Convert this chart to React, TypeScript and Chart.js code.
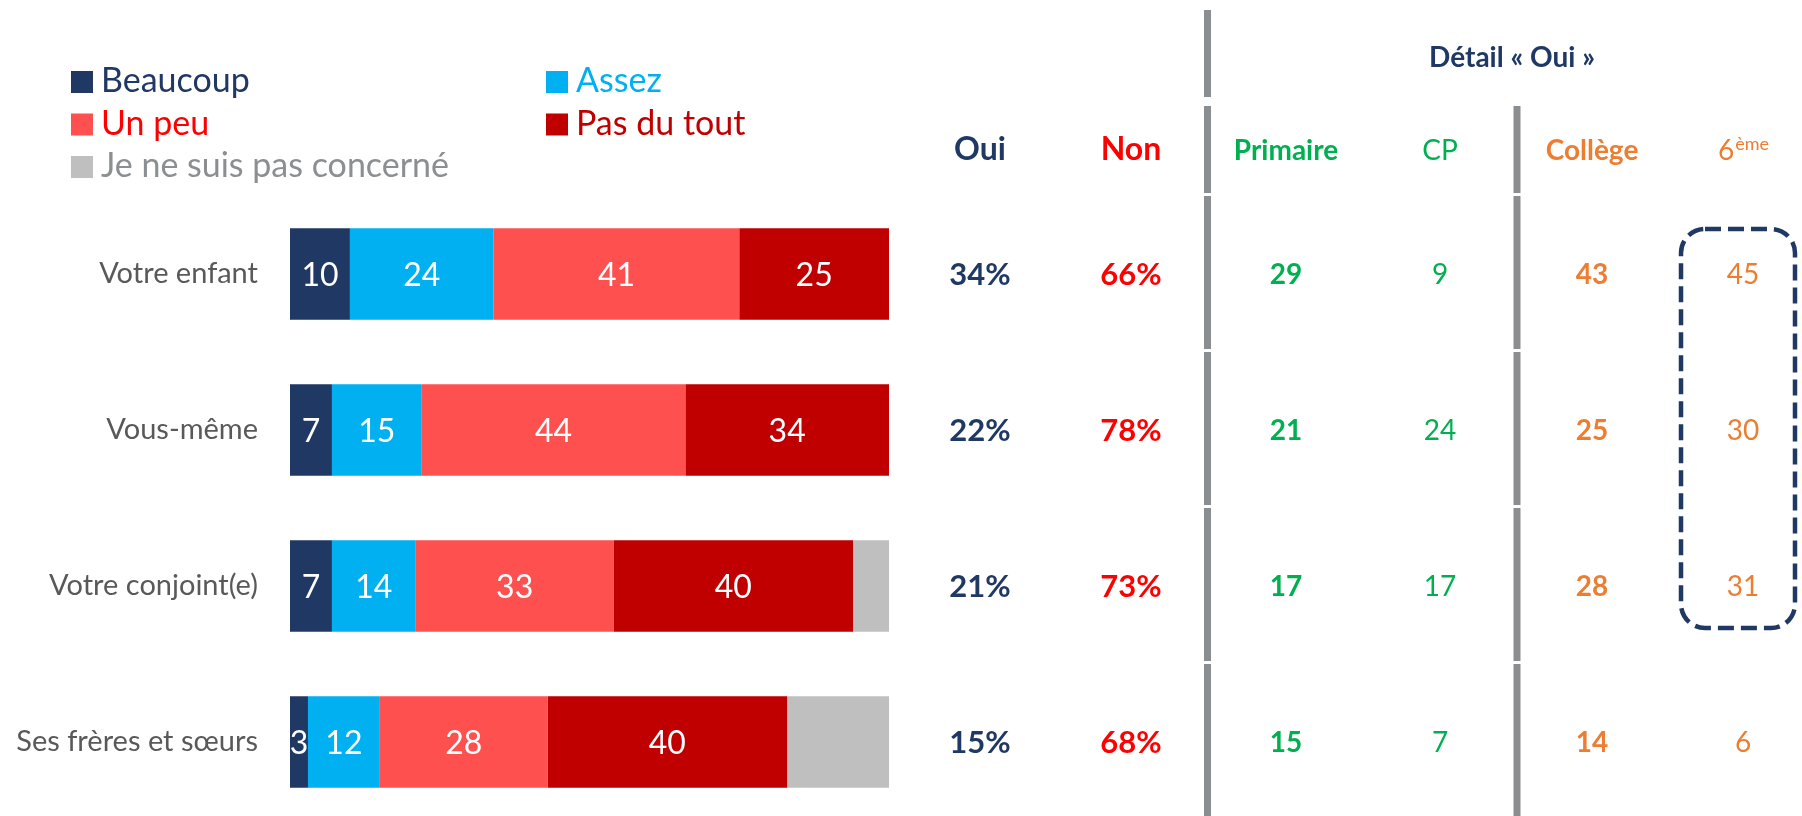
import React, { useEffect, useRef } from "react";
import { Chart, registerables } from "chart.js";

Chart.register(...registerables);

// ---- data ----
const categories = ["Votre enfant", "Vous-même", "Votre conjoint(e)", "Ses frères et sœurs"];
const seriesNames = ["Beaucoup", "Assez", "Un peu", "Pas du tout", "Je ne suis pas concerné"];
const beaucoup = [10, 7, 7, 3];
const assez = [24, 15, 14, 12];
const unPeu = [41, 44, 33, 28];
const pasDuTout = [25, 34, 40, 40];
const nonConcerne = [0, 0, 6, 17];
const ouiTotals = [34, 22, 21, 15];
const nonTotals = [66, 78, 73, 68];
const primaire = [29, 21, 17, 15];
const cp = [9, 24, 17, 7];
const college = [43, 25, 28, 14];
const sixieme = [45, 30, 31, 6];
const columnHeaders = ["Oui", "Non", "Primaire", "CP", "Collège", "6"];
const detailTitle = "Détail « Oui »";
const superscript = "ème";

// ---- styles ----
const FONT = "Lato, 'Open Sans', sans-serif";
const NAVY = "#1F3864";
const GREEN = "#00B050";
const ORANGE = "#ED7D31";
const RED = "#FF0000";
const LINE_GRAY = "#8B8E91";
const seriesColors = ["#1F3864", "#00B0F0", "#FF5050", "#C00000", "#BFBFBF"];
const legendTextColors = ["#1F3864", "#00B0F0", "#FF0000", "#C00000", "#8C8F92"];

const W = 1802;
const H = 830;

const overlay = {
  id: "overlay",
  afterDatasetsDraw(chart: any) {
    const ctx = chart.ctx as CanvasRenderingContext2D;
    ctx.save();
    const size = 32;
    ctx.font = `${size}px ${FONT}`;
    ctx.fillStyle = "#FFFFFF";
    ctx.textAlign = "center";
    ctx.textBaseline = "alphabetic";
    chart.data.datasets.forEach((ds: any, di: number) => {
      if (di === 4) return;
      const meta = chart.getDatasetMeta(di);
      meta.data.forEach((el: any, i: number) => {
        const v = ds.data[i];
        if (!v) return;
        const p = el.getProps(["x", "base", "y"], true);
        ctx.fillText(String(v), (p.x + p.base) / 2, p.y + 0.36 * size);
      });
    });
    ctx.restore();
  },
  afterDraw(chart: any) {
    const ctx = chart.ctx as CanvasRenderingContext2D;
    const yScale = chart.scales.y;
    ctx.save();

    // legend
    const legendPos = [
      [71, 0], [546, 0], [71, 1], [546, 1], [71, 2],
    ];
    chart.data.datasets.forEach((ds: any, i: number) => {
      const [lx, row] = legendPos[i];
      const top = 71 + row * 42.5;
      ctx.fillStyle = ds.backgroundColor;
      ctx.fillRect(lx, top, 22, 22);
      ctx.font = `34px ${FONT}`;
      ctx.fillStyle = legendTextColors[i];
      ctx.textAlign = "left";
      ctx.textBaseline = "alphabetic";
      ctx.fillText(ds.label, lx + 30, top + 21);
    });

    // vertical separators
    const rowPix = categories.map((_, i) => yScale.getPixelForValue(i));
    const half = (rowPix[1] - rowPix[0]) / 2;
    const bounds = [rowPix[0] - half, ...rowPix.slice(1).map((p, i) => (p + rowPix[i]) / 2)];
    const drawSeg = (x: number, y0: number, y1: number) => {
      ctx.fillStyle = LINE_GRAY;
      ctx.fillRect(x - 3.5, y0, 7, y1 - y0);
    };
    const drawLine = (x: number, withTop: boolean) => {
      if (withTop) drawSeg(x, 10, 97);
      drawSeg(x, 106, bounds[0] - 3);
      for (let k = 0; k < bounds.length; k++) {
        const end = k + 1 < bounds.length ? bounds[k + 1] - 3 : 816;
        drawSeg(x, bounds[k], end);
      }
    };
    drawLine(1207.5, true);
    drawLine(1517, false);

    // title
    ctx.textAlign = "center";
    ctx.textBaseline = "alphabetic";
    ctx.font = `bold 28px ${FONT}`;
    ctx.fillStyle = NAVY;
    ctx.fillText(detailTitle, 1512, 67);

    // column headers & values
    const cols = [
      { x: 980, values: ouiTotals, color: NAVY, bold: true, pct: true, hSize: 32, size: 31 },
      { x: 1131, values: nonTotals, color: RED, bold: true, pct: true, hSize: 32, size: 31 },
      { x: 1286, values: primaire, color: GREEN, bold: true, pct: false, hSize: 28, size: 28 },
      { x: 1440, values: cp, color: GREEN, bold: false, pct: false, hSize: 28, size: 28 },
      { x: 1592, values: college, color: ORANGE, bold: true, pct: false, hSize: 28, size: 28 },
      { x: 1743, values: sixieme, color: ORANGE, bold: false, pct: false, hSize: 28, size: 28 },
    ];
    cols.forEach((c, ci) => {
      ctx.fillStyle = c.color;
      ctx.font = `${c.bold ? "bold " : ""}${c.hSize}px ${FONT}`;
      if (ci === 5) {
        const mainW = ctx.measureText(columnHeaders[ci]).width;
        ctx.font = `18px ${FONT}`;
        const supW = ctx.measureText(superscript).width;
        const start = c.x - (mainW + supW) / 2;
        ctx.textAlign = "left";
        ctx.font = `${c.hSize}px ${FONT}`;
        ctx.fillText(columnHeaders[ci], start, 160);
        ctx.font = `18px ${FONT}`;
        ctx.fillText(superscript, start + mainW + 1, 150);
        ctx.textAlign = "center";
      } else {
        ctx.fillText(columnHeaders[ci], c.x, 160);
      }
      ctx.font = `${c.bold ? "bold " : ""}${c.size}px ${FONT}`;
      c.values.forEach((v, i) => {
        ctx.fillText(`${v}${c.pct ? "%" : ""}`, c.x, rowPix[i] + 0.36 * c.size);
      });
    });

    // dashed rounded highlight
    ctx.strokeStyle = NAVY;
    ctx.lineWidth = 4.5;
    ctx.setLineDash([16, 7]);
    ctx.beginPath();
    (ctx as any).roundRect(1681, 229, 114, 399, 24);
    ctx.stroke();
    ctx.restore();
  },
};

export default function App() {
  const ref = useRef<HTMLCanvasElement>(null);
  useEffect(() => {
    document.body.style.margin = "0";
    document.body.style.overflow = "hidden";
    const values = [beaucoup, assez, unPeu, pasDuTout, nonConcerne];
    const chart = new Chart(ref.current as HTMLCanvasElement, {
      type: "bar",
      data: {
        labels: categories,
        datasets: seriesNames.map((name, i) => ({
          label: name,
          data: values[i],
          backgroundColor: seriesColors[i],
          borderWidth: 0,
          barPercentage: 0.585,
          categoryPercentage: 1,
        })),
      },
      options: {
        indexAxis: "y",
        responsive: false,
        animation: false,
        devicePixelRatio: 1,
        layout: { padding: { left: 0, right: W - 889, top: 196, bottom: H - 820 } },
        plugins: { legend: { display: false }, tooltip: { enabled: false } },
        scales: {
          x: { stacked: true, min: 0, max: 100, display: false },
          y: {
            stacked: true,
            grid: { display: false, drawTicks: false },
            border: { display: false },
            ticks: { color: "#595959", font: { family: FONT, size: 29 }, padding: 32 },
            afterFit: (s: any) => {
              s.width = 290;
              s.paddingTop = 0;
              s.paddingBottom = 0;
            },
          },
        },
      },
      plugins: [overlay],
    } as any);
    return () => chart.destroy();
  }, []);
  return (
    <div style={{ width: W, height: 816, overflow: "hidden", position: "relative", background: "#fff" }}>
      <canvas ref={ref} width={W} height={H} style={{ display: "block", width: W, height: H }} />
    </div>
  );
}
